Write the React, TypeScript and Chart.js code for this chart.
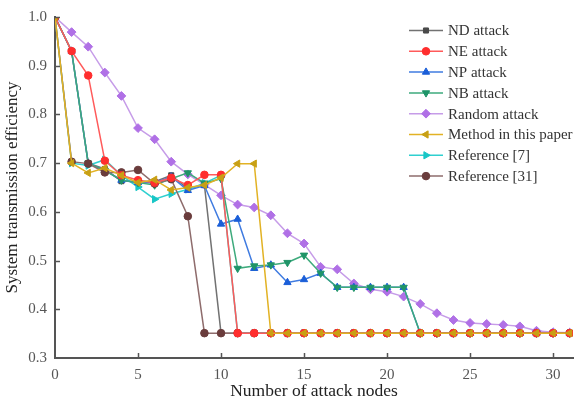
import React, { useEffect, useRef } from "react";
import { Chart, registerables } from "chart.js";
import { drawPoint } from "chart.js/helpers";
Chart.register(...registerables);

const nodes = [0, 1, 2, 3, 4, 5, 6, 7, 8, 9, 10, 11, 12, 13, 14, 15, 16, 17, 18, 19, 20, 21, 22, 23, 24, 25, 26, 27, 28, 29, 30, 31];

const ndAttack = [1.0, 0.93, 0.70, 0.688, 0.663, 0.663, 0.662, 0.675, 0.648, 0.655, 0.351, 0.351, 0.351, 0.351, 0.351, 0.351, 0.351, 0.351, 0.351, 0.351, 0.351, 0.351, 0.351, 0.351, 0.351, 0.351, 0.351, 0.351, 0.351, 0.351, 0.351, 0.351];
const neAttack = [1.0, 0.93, 0.88, 0.705, 0.675, 0.665, 0.66, 0.67, 0.655, 0.676, 0.676, 0.351, 0.351, 0.351, 0.351, 0.351, 0.351, 0.351, 0.351, 0.351, 0.351, 0.351, 0.351, 0.351, 0.351, 0.351, 0.351, 0.351, 0.351, 0.351, 0.351, 0.351];
const npAttack = [1.0, 0.93, 0.70, 0.685, 0.665, 0.66, 0.66, 0.672, 0.644, 0.654, 0.575, 0.585, 0.484, 0.491, 0.455, 0.461, 0.474, 0.445, 0.445, 0.445, 0.445, 0.445, 0.351, 0.351, 0.351, 0.351, 0.351, 0.351, 0.351, 0.351, 0.351, 0.351];
const nbAttack = [1.0, 0.93, 0.70, 0.685, 0.665, 0.66, 0.655, 0.668, 0.680, 0.659, 0.668, 0.484, 0.489, 0.491, 0.496, 0.511, 0.474, 0.445, 0.445, 0.445, 0.445, 0.445, 0.351, 0.351, 0.351, 0.351, 0.351, 0.351, 0.351, 0.351, 0.351, 0.351];
const randomAttack = [1.0, 0.969, 0.939, 0.886, 0.838, 0.772, 0.749, 0.703, 0.677, 0.656, 0.634, 0.615, 0.609, 0.593, 0.556, 0.535, 0.487, 0.482, 0.453, 0.441, 0.436, 0.426, 0.411, 0.392, 0.378, 0.372, 0.370, 0.368, 0.365, 0.356, 0.353, 0.352];
const methodPaper = [1.0, 0.70, 0.680, 0.690, 0.675, 0.660, 0.666, 0.645, 0.650, 0.655, 0.670, 0.699, 0.699, 0.351, 0.351, 0.351, 0.351, 0.351, 0.351, 0.351, 0.351, 0.351, 0.351, 0.351, 0.351, 0.351, 0.351, 0.351, 0.351, 0.351, 0.351, 0.351];
const reference7 = [1.0, 0.70, 0.695, 0.707, 0.675, 0.651, 0.626, 0.637, 0.646, 0.659, 0.675, 0.351, 0.351, 0.351, 0.351, 0.351, 0.351, 0.351, 0.351, 0.351, 0.351, 0.351, 0.351, 0.351, 0.351, 0.351, 0.351, 0.351, 0.351, 0.351, 0.351, 0.351];
const reference31 = [1.0, 0.703, 0.699, 0.681, 0.681, 0.686, 0.658, 0.667, 0.591, 0.351, 0.351, 0.351, 0.351, 0.351, 0.351, 0.351, 0.351, 0.351, 0.351, 0.351, 0.351, 0.351, 0.351, 0.351, 0.351, 0.351, 0.351, 0.351, 0.351, 0.351, 0.351, 0.351];

const xTicks = [0, 5, 10, 15, 20, 25, 30];
const yTicks = [0.3, 0.4, 0.5, 0.6, 0.7, 0.8, 0.9, 1.0];

const FONT = '"Liberation Serif", "Times New Roman", serif';

type S = { label: string; data: number[]; line: string; mark: string; style: string; rot: number; r: number; order: number };
const series: S[] = [
  { label: "ND attack", data: ndAttack, line: "#727272", mark: "#4a4a4a", style: "rect", rot: 0, r: 3.6, order: 7 },
  { label: "NE attack", data: neAttack, line: "#ff5a5a", mark: "#ff2e2e", style: "circle", rot: 0, r: 3.8, order: 2 },
  { label: "NP attack", data: npAttack, line: "#3f7be0", mark: "#1a5ed8", style: "triangle", rot: 0, r: 4.2, order: 4 },
  { label: "NB attack", data: nbAttack, line: "#3daa7c", mark: "#1f9468", style: "triangle", rot: 180, r: 4.2, order: 3 },
  { label: "Random attack", data: randomAttack, line: "#c69ce8", mark: "#b070e6", style: "rectRot", rot: 0, r: 4.4, order: 8 },
  { label: "Method in this paper", data: methodPaper, line: "#e2b224", mark: "#c8a014", style: "triangle", rot: -90, r: 4.2, order: 1 },
  { label: "Reference [7]", data: reference7, line: "#2fd0d0", mark: "#18c6c6", style: "triangle", rot: 90, r: 4.2, order: 5 },
  { label: "Reference [31]", data: reference31, line: "#8e6c6c", mark: "#6a3c3c", style: "circle", rot: 0, r: 3.8, order: 2.5 },
];

export default function App() {
  const ref = useRef<HTMLCanvasElement>(null);
  useEffect(() => {
    if (!ref.current) return;
    const innerTicks = {
      id: "innerTicks",
      afterDraw(chart: any) {
        const { ctx, chartArea } = chart;
        const xs = chart.scales.x;
        const ys = chart.scales.y;
        ctx.save();
        ctx.strokeStyle = "#555";
        ctx.lineWidth = 1.5;
        xTicks.forEach((v) => {
          if (v === 0) return;
          const px = Math.round(xs.getPixelForValue(v)) + 0.5;
          ctx.beginPath();
          ctx.moveTo(px, chartArea.bottom);
          ctx.lineTo(px, chartArea.bottom - 5);
          ctx.stroke();
        });
        yTicks.forEach((v) => {
          if (v === 0.3) return;
          const py = Math.round(ys.getPixelForValue(v)) + 0.5;
          ctx.beginPath();
          ctx.moveTo(chartArea.left, py);
          ctx.lineTo(chartArea.left + 5, py);
          ctx.stroke();
        });
        ctx.restore();
      },
    };
    const legend = {
      id: "customLegend",
      afterDraw(chart: any) {
        const { ctx, chartArea } = chart;
        const x0 = chartArea.right - 164;
        const x1 = x0 + 34;
        let y = chartArea.top + 13.5;
        ctx.save();
        series.forEach((s) => {
          ctx.strokeStyle = s.line;
          ctx.lineWidth = 1.5;
          ctx.beginPath();
          ctx.moveTo(x0, y);
          ctx.lineTo(x1, y);
          ctx.stroke();
          ctx.fillStyle = s.mark;
          ctx.strokeStyle = s.mark;
          ctx.lineWidth = 1;
          drawPoint(ctx, { pointStyle: s.style as any, rotation: s.rot, radius: s.r, borderWidth: 1 }, (x0 + x1) / 2, y);
          ctx.fillStyle = "#333";
          ctx.font = `15px ${FONT}`;
          ctx.textBaseline = "middle";
          ctx.textAlign = "left";
          ctx.fillText(s.label, x1 + 5, y + 1);
          y += 20.8;
        });
        ctx.restore();
      },
    };
    const chart = new Chart(ref.current, {
      type: "line",
      data: {
        datasets: series.map((s) => ({
          label: s.label,
          data: s.data.map((v, i) => ({ x: nodes[i], y: v })),
          borderColor: s.line,
          backgroundColor: s.mark,
          pointBackgroundColor: s.mark,
          pointBorderColor: s.mark,
          pointBorderWidth: 1,
          pointStyle: s.style as any,
          pointRotation: s.rot,
          pointRadius: s.r,
          borderWidth: 1.5,
          tension: 0,
          fill: false,
          order: s.order,
        })),
      },
      options: {
        animation: false,
        responsive: false,
        layout: { padding: { left: 0, right: 12, top: 16, bottom: 0 } },
        plugins: { legend: { display: false }, tooltip: { enabled: false } },
        scales: {
          x: {
            type: "linear",
            min: 0,
            max: 31.2,
            afterFit(s: any) {
              s.height = 45;
            },
            grid: { display: false, drawTicks: false },
            border: { display: true, color: "#555", width: 2 },
            ticks: { stepSize: 5, includeBounds: false, padding: 8, color: "#555", font: { family: FONT, size: 15 } },
            title: { display: true, text: "Number of attack nodes", color: "#222", font: { family: FONT, size: 17.5 }, padding: { top: 0, bottom: 1 } },
          },
          y: {
            type: "linear",
            min: 0.3,
            max: 1.0,
            afterFit(s: any) {
              s.width = 55;
            },
            grid: { display: false, drawTicks: false },
            border: { display: true, color: "#555", width: 2 },
            ticks: {
              stepSize: 0.1,
              padding: 8,
              color: "#555",
              font: { family: FONT, size: 15 },
              callback: (v: any) => Number(v).toFixed(1),
            },
            title: { display: true, text: "System transmission efficiency", color: "#222", font: { family: FONT, size: 17 }, padding: { top: 2, bottom: 0 } },
          },
        },
      },
      plugins: [innerTicks, legend],
    });
    return () => chart.destroy();
  }, []);
  return (
    <div style={{ position: "fixed", left: 0, top: 0, width: 585, height: 403, background: "#fff" }}>
      <canvas ref={ref} width={585} height={403} style={{ display: "block" }} />
    </div>
  );
}
